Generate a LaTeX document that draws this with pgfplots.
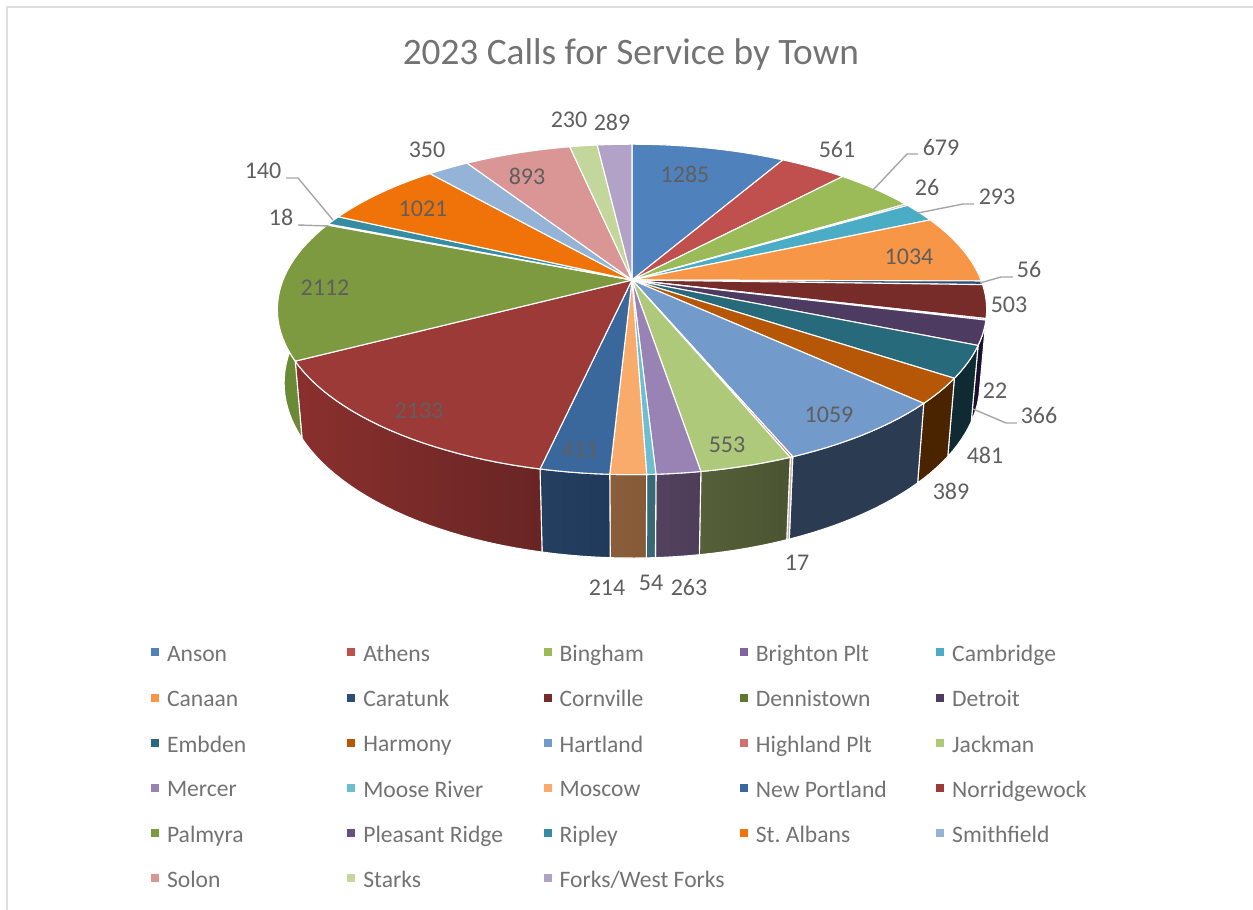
\documentclass[border=0pt]{standalone}
\usepackage{fontspec}
\setmainfont{Carlito}
\usepackage{pgfplots}
\pgfplotsset{compat=1.18}

\definecolor{txt}{HTML}{5F5F5F}
\definecolor{ttl}{HTML}{737373}
\definecolor{leg}{HTML}{737373}
\definecolor{lead}{HTML}{A6A6A6}
\definecolor{frame}{HTML}{DEDEDE}
\tikzset{lab/.style={text=txt,font=\fontsize{24}{25}\selectfont,inner sep=0pt}}

% name, calls, top colour, wall left colour, wall right colour
\newcommand\piedata{%
  \slice{Anson}{1285}{4F81BD}{4F81BD}{4F81BD}%
  \slice{Athens}{561}{C0504D}{C0504D}{C0504D}%
  \slice{Bingham}{679}{9BBB59}{9BBB59}{9BBB59}%
  \slice{Brighton Plt}{26}{8064A2}{8064A2}{8064A2}%
  \slice{Cambridge}{293}{4BACC6}{4BACC6}{4BACC6}%
  \slice{Canaan}{1034}{F79646}{F79646}{F79646}%
  \slice{Caratunk}{56}{2C4D75}{1A2E46}{1A2E46}%
  \slice{Cornville}{503}{772C2A}{3A1514}{3A1514}%
  \slice{Dennistown}{22}{5F7530}{2A3518}{2A3518}%
  \slice{Detroit}{366}{4D3B62}{1C1030}{1C1030}%
  \slice{Embden}{481}{276A7C}{0F2A32}{0F2A32}%
  \slice{Harmony}{389}{B65708}{4A2300}{4A2300}%
  \slice{Hartland}{1059}{729ACA}{2B3B52}{2B3B52}%
  \slice{Highland Plt}{17}{CD7371}{C9A9A8}{C9A9A8}%
  \slice{Jackman}{553}{AFC97A}{55603A}{4A5430}%
  \slice{Mercer}{263}{9983B5}{52425E}{4D3D58}%
  \slice{Moose River}{54}{6FBDD1}{366A78}{366A78}%
  \slice{Moscow}{214}{F9AB6B}{8A5E3A}{855A36}%
  \slice{New Portland}{411}{3A679C}{253F60}{1F3A5A}%
  \slice{Norridgewock}{2133}{9C3A38}{8A302E}{682524}%
  \slice{Palmyra}{2112}{7D9A40}{6A8A35}{6A8A35}%
  \slice{Pleasant Ridge}{18}{664F82}{664F82}{664F82}%
  \slice{Ripley}{140}{358CA3}{358CA3}{358CA3}%
  \slice{St.\ Albans}{1021}{F07309}{F07309}{F07309}%
  \slice{Smithfield}{350}{95B3D7}{95B3D7}{95B3D7}%
  \slice{Solon}{893}{D99694}{D99694}{D99694}%
  \slice{Starks}{230}{C3D69B}{C3D69B}{C3D69B}%
  \slice{Forks/West Forks}{289}{B2A2C7}{B2A2C7}{B2A2C7}%
}

% angle (deg, clockwise from the top) to picture position, top rim and bottom rim
\newcommand\rimtop[1]{%
  \pgfmathsetmacro\pu{sin(#1)}\pgfmathsetmacro\pv{cos(#1)}%
  \pgfmathsetmacro\pw{1+0.178*\pv}%
  \pgfmathsetmacro\px{632+349*\pu/\pw}\pgfmathsetmacro\py{280-160*\pv/\pw}}
\newcommand\rimbot[1]{%
  \pgfmathsetmacro\pu{sin(#1)}\pgfmathsetmacro\pv{cos(#1)}%
  \pgfmathsetmacro\pw{1.0188+0.178*\pv}%
  \pgfmathsetmacro\px{632+349*\pu/\pw}\pgfmathsetmacro\py{280+(73.8-160*\pv)/\pw}}

% work out the angles of the next slice
\newcommand\sliceangles[1]{%
  \pgfmathsetmacro\aa{\cum/15452*360}%
  \pgfmathsetmacro\newcum{\cum+#1}\global\let\cum\newcum
  \pgfmathsetmacro\ab{\cum/15452*360}%
  \pgfmathtruncatemacro\nn{max(1,ceil((\ab-\aa)/2))}%
  \pgfmathsetmacro\da{(\ab-\aa)/\nn}}

\newcommand\wallslice[5]{%
  \sliceangles{#2}%
  \gdef\pts{}%
  \foreach \i in {0,...,\nn}{%
    \pgfmathsetmacro\t{\aa+\i*\da}\rimtop{\t}\xdef\pts{\pts(\px,\py)}}%
  \foreach \i in {\nn,...,0}{%
    \pgfmathsetmacro\t{\aa+\i*\da}\rimbot{\t}\xdef\pts{\pts(\px,\py)}}%
  \definecolor{wl#2}{HTML}{#4}\definecolor{wr#2}{HTML}{#5}%
  \edef\doplot{\noexpand\addplot[forget plot,draw=white,line width=1.1pt,line join=round,
    left color=wl#2,right color=wr#2] coordinates {\pts} -- cycle;}\doplot}

\newcommand\topslice[5]{%
  \sliceangles{#2}%
  \gdef\pts{(632,280)}%
  \foreach \i in {0,...,\nn}{%
    \pgfmathsetmacro\t{\aa+\i*\da}\rimtop{\t}\xdef\pts{\pts(\px,\py)}}%
  \definecolor{tc#2}{HTML}{#3}%
  \edef\doplot{\noexpand\addplot[fill=tc#2,draw=white,line width=1.1pt,line join=round]
    coordinates {\pts} -- cycle;}\doplot
  \addlegendentry{\rule[-7pt]{0pt}{22pt}\hspace*{6pt}\makebox[178.3pt][l]{#1}}}

\begin{document}
\begin{tikzpicture}
\useasboundingbox (0,0) rectangle (1253pt,910pt);
\begin{axis}[
  at={(0,0)},anchor=south west,
  width=1253pt,height=910pt,scale only axis,
  xmin=0,xmax=1253,ymin=0,ymax=910,y dir=reverse,
  axis lines=none,clip=false,
  title={\textcolor{ttl}{2023 Calls for Service by Town}},
  title style={at={(0.5035,0.933)},anchor=center,yshift=0pt,font=\fontsize{37.3}{40}\selectfont},
  legend columns=5,
  legend style={at={(axis cs:151,643.5)},anchor=north west,draw=none,fill=none,
    font=\fontsize{23.6}{25}\selectfont\color{leg},
    inner sep=0pt,outer sep=0pt,
    /tikz/row sep=23.2pt,/tikz/column sep=0pt},
  legend image code/.code={\fill[#1,draw=none] (0pt,-2pt) rectangle (8pt,6pt);},
]
% frame of the chart area
\addplot[forget plot,draw=frame,line width=2pt] coordinates {(7,910) (7,7) (1253,7)};

\gdef\cum{0}
\let\slice\wallslice
\piedata
\gdef\cum{0}
\let\slice\topslice
\piedata

% leader lines
\addplot[forget plot,draw=lead,line width=1.4pt] coordinates {(918,154) (907,154) (873,190)};
\addplot[forget plot,draw=lead,line width=1.4pt] coordinates {(974,204) (963,204) (918,213)};
\addplot[forget plot,draw=lead,line width=1.4pt] coordinates {(1013,277) (1001,277) (980,283)};
\addplot[forget plot,draw=lead,line width=1.4pt] coordinates {(1017,423) (1006,423) (973,409)};
\addplot[forget plot,draw=lead,line width=1.4pt] coordinates {(286,178) (298,178) (333,220)};
\addplot[forget plot,draw=lead,line width=1.4pt] coordinates {(298,225) (329,226)};

% data labels
\node[lab] at (axis cs:685,174) {1285};
\node[lab] at (axis cs:837,149) {561};
\node[lab] at (axis cs:941,147) {679};
\node[lab] at (axis cs:927,187) {26};
\node[lab] at (axis cs:997,197) {293};
\node[lab] at (axis cs:909,257) {1034};
\node[lab] at (axis cs:1029,269) {56};
\node[lab] at (axis cs:1009,305) {503};
\node[lab] at (axis cs:995,391) {22};
\node[lab] at (axis cs:1039,415) {366};
\node[lab] at (axis cs:985,455) {481};
\node[lab] at (axis cs:951,491) {389};
\node[lab] at (axis cs:829,415) {1059};
\node[lab] at (axis cs:797,563) {17};
\node[lab] at (axis cs:727,445) {553};
\node[lab] at (axis cs:689,587) {263};
\node[lab] at (axis cs:651,583) {54};
\node[lab] at (axis cs:607,588) {214};
\node[lab] at (axis cs:580,450) {411};
\node[lab] at (axis cs:419,411) {2133};
\node[lab] at (axis cs:325,288) {2112};
\node[lab] at (axis cs:263,171) {140};
\node[lab] at (axis cs:281,217) {18};
\node[lab] at (axis cs:423,209) {1021};
\node[lab] at (axis cs:427,150) {350};
\node[lab] at (axis cs:527,176) {893};
\node[lab] at (axis cs:569,120) {230};
\node[lab] at (axis cs:612,122) {289};
\end{axis}
\end{tikzpicture}
\end{document}
